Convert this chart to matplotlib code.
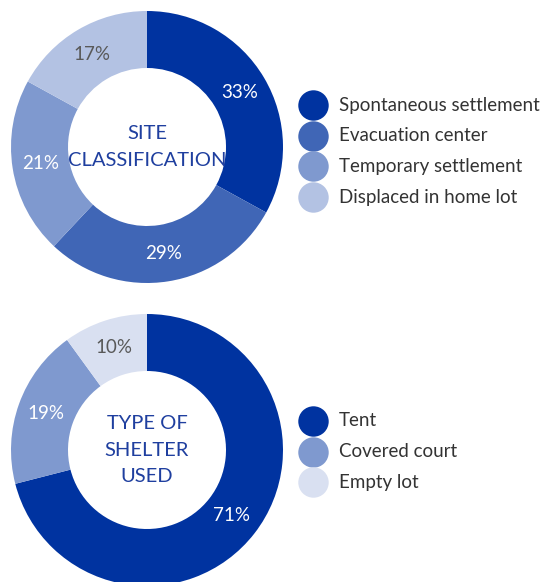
import numpy as np
import matplotlib
matplotlib.use('Agg')
import matplotlib.pyplot as plt

plt.rcParams['font.family'] = ['Lato', 'DejaVu Sans']

# site classification
site_labels = ['Spontaneous settlement', 'Evacuation center', 'Temporary settlement', 'Displaced in home lot']
site_values = [33, 29, 21, 17]
site_colors = ['#0033A0', '#4066B6', '#7F99CF', '#B3C2E3']
site_text = ['white', 'white', 'white', '#595959']

# type of shelter used
shelter_labels = ['Tent', 'Covered court', 'Empty lot']
shelter_values = [71, 19, 10]
shelter_colors = ['#0033A0', '#7F99CF', '#D9E0F1']
shelter_text = ['white', 'white', '#595959']

W, H = 542, 582
fig = plt.figure(figsize=(W/100, H/100), dpi=100)
ax = fig.add_axes([0, 0, 1, 1])

R = 136
RING = 57


def donut(values, colors, tcolors, cx, cy, title):
    wedges, texts, autotexts = ax.pie(values, colors=colors, startangle=90, counterclock=False,
                                      radius=R, center=(cx, cy),
                                      wedgeprops=dict(width=RING, linewidth=0),
                                      autopct=lambda p: f'{p:.0f}%', pctdistance=(R - RING/2)/R,
                                      textprops=dict(fontsize=13.5))
    for t, c in zip(autotexts, tcolors):
        t.set_color(c)
    ax.text(cx, cy, title, ha='center', va='center', fontsize=14.5, color='#1F3F9F',
            linespacing=1.65)


def legend(labels, colors, x, y0, dy):
    for i, (lab, c) in enumerate(zip(labels, colors)):
        y = y0 - i*dy
        ax.scatter([x], [y], s=480, color=c, linewidths=0)
        ax.text(x + 26, y, lab, ha='left', va='center', fontsize=13.5, color='#333333')


donut(site_values, site_colors, site_text, 147, H - 147, 'SITE\nCLASSIFICATION')
donut(shelter_values, shelter_colors, shelter_text, 147, H - 450, 'TYPE OF\nSHELTER\nUSED')

legend(site_labels, site_colors, 313, H - 105, 30.7)
legend(shelter_labels, shelter_colors, 313, H - 421, 30.7)

ax.set_xlim(0, W)
ax.set_ylim(0, H)
ax.set_aspect('equal')
ax.axis('off')

fig.savefig('out.png', dpi=100, facecolor='white')
